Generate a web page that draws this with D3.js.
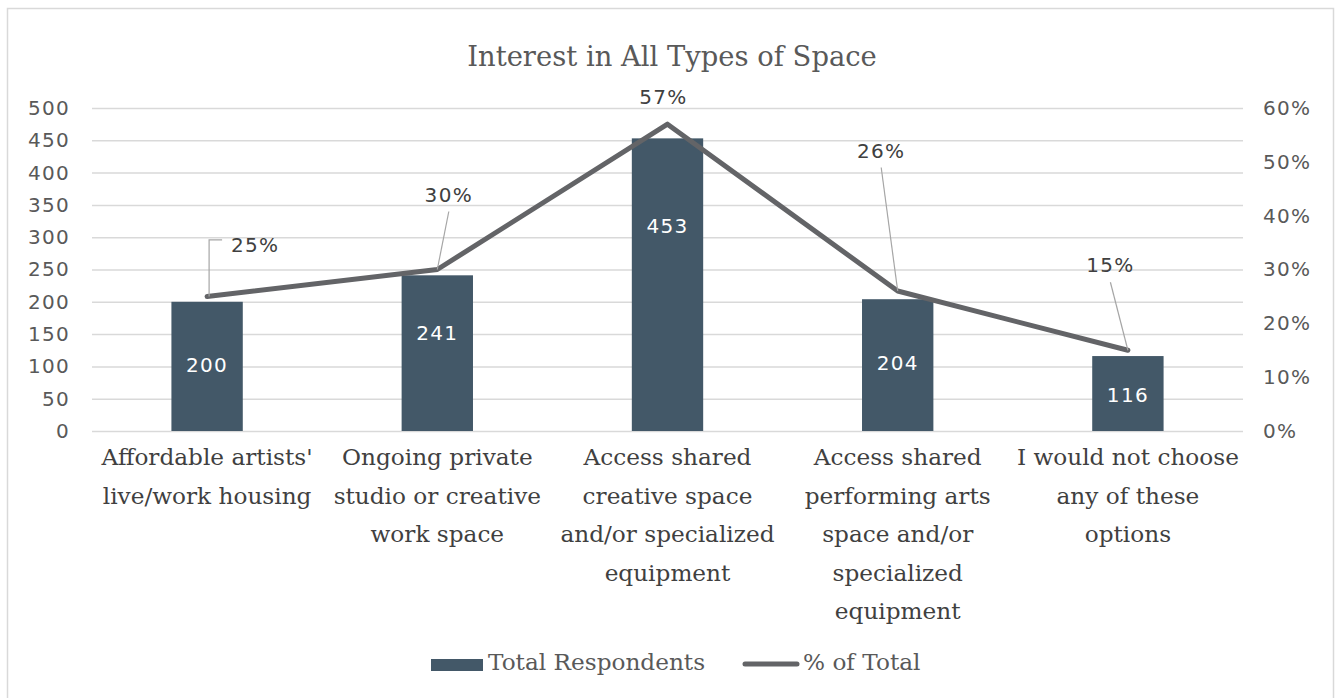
<!DOCTYPE html>
<html>
<head>
<meta charset="utf-8">
<script src="https://cdn.jsdelivr.net/npm/d3@7"></script>
<style>
  html, body { margin: 0; padding: 0; background: #fff; }
  svg { display: block; }
</style>
</head>
<body>
<svg id="chart" width="1335" height="698"></svg>
<script>
// Survey results: interest in each type of space
const categories = [
  "Affordable artists'\nlive/work housing",
  "Ongoing private\nstudio or creative\nwork space",
  "Access shared\ncreative space\nand/or specialized\nequipment",
  "Access shared\nperforming arts\nspace and/or\nspecialized\nequipment",
  "I would not choose\nany of these\noptions"
];
const respondents = [200, 241, 453, 204, 116];
const shareOfTotal = [0.25, 0.30, 0.57, 0.26, 0.15];
const leftTicks = [0, 50, 100, 150, 200, 250, 300, 350, 400, 450, 500];
const rightTicks = [0, 0.1, 0.2, 0.3, 0.4, 0.5, 0.6];
const seriesNames = ["Total Respondents", "% of Total"];
const chartTitle = "Interest in All Types of Space";

// Vertical placement of the count labels, measured down from the top of each bar
const barLabelDy = [63, 57, 87, 64, 39];

// Placement of the percentage labels relative to their points, with leader lines
const pctLabelLayout = [
  { dx: 48,   dy: -52,   leader: "elbow" },
  { dx: 11.5, dy: -75,   leader: "straight" },
  { dx: -4,   dy: -27,   leader: "none" },
  { dx: -16.5, dy: -140.5, leader: "straight" },
  { dx: -17.5, dy: -85,  leader: "straight" }
];

const numFont = "'DejaVu Sans', Verdana, sans-serif";
const serifFont = "'DejaVu Serif', 'Liberation Serif', serif";
const numSpacing = 1.3;
const barColor = "#435868";
const lineColor = "#636467";
const gridColor = "#d9d9d9";
const catSize = 23.2;

const svg = d3.select("#chart");

// chart frame
svg.append("rect")
  .attr("x", 7.5).attr("y", 8.5)
  .attr("width", 1326).attr("height", 700)
  .attr("fill", "#fff").attr("stroke", "#d9d9d9").attr("stroke-width", 1.5);

const plot = { left: 92, right: 1243, top: 108, bottom: 431 };

const x = d3.scaleBand()
  .domain(d3.range(categories.length))
  .range([plot.left, plot.right])
  .paddingInner(0.69).paddingOuter(0.345);

const y = d3.scaleLinear().domain([0, 500]).range([plot.bottom, plot.top]);
const y2 = d3.scaleLinear().domain([0, 0.6]).range([plot.bottom, plot.top]);

// title
svg.append("text")
  .attr("x", 672).attr("y", 66)
  .attr("text-anchor", "middle")
  .attr("font-family", serifFont)
  .attr("font-size", 27.4)
  .attr("fill", "#595959")
  .text(chartTitle);

// gridlines and left axis
const leftAxis = d3.axisLeft(y).tickValues(leftTicks).tickSize(-(plot.right - plot.left)).tickPadding(22);
const gL = svg.append("g").attr("transform", `translate(${plot.left},0)`).call(leftAxis);
gL.select(".domain").remove();
gL.selectAll(".tick line").attr("stroke", gridColor).attr("stroke-width", 1.5);
gL.selectAll(".tick text")
  .attr("font-family", numFont).attr("font-size", 20)
  .attr("letter-spacing", numSpacing)
  .attr("fill", "#595959");

// right axis
const rightAxis = d3.axisRight(y2).tickValues(rightTicks).tickFormat(d3.format(".0%")).tickSize(0).tickPadding(20);
const gR = svg.append("g").attr("transform", `translate(${plot.right},0)`).call(rightAxis);
gR.select(".domain").remove();
gR.selectAll(".tick text")
  .attr("font-family", numFont).attr("font-size", 20)
  .attr("letter-spacing", numSpacing)
  .attr("fill", "#595959");

// bars
svg.append("g").selectAll("rect")
  .data(respondents)
  .join("rect")
  .attr("x", (d, i) => x(i))
  .attr("y", d => y(d))
  .attr("width", x.bandwidth())
  .attr("height", d => y(0) - y(d))
  .attr("fill", barColor);

svg.append("g").selectAll("text")
  .data(respondents)
  .join("text")
  .attr("x", (d, i) => x(i) + x.bandwidth() / 2)
  .attr("y", (d, i) => y(d) + barLabelDy[i])
  .attr("dy", "0.36em")
  .attr("text-anchor", "middle")
  .attr("font-family", numFont).attr("font-size", 20)
  .attr("letter-spacing", numSpacing)
  .attr("fill", "#ffffff")
  .text(d => d);

// category labels
const cx = i => x(i) + x.bandwidth() / 2;
const catG = svg.append("g");
categories.forEach((c, i) => {
  const t = catG.append("text")
    .attr("text-anchor", "middle")
    .attr("font-family", serifFont).attr("font-size", catSize)
    .attr("fill", "#404040");
  c.split("\n").forEach((line, j) => {
    t.append("tspan").attr("x", cx(i)).attr("y", 465 + j * 38.5).text(line);
  });
});

// line series
const pts = shareOfTotal.map((v, i) => [cx(i), y2(v)]);
svg.append("path")
  .attr("d", d3.line()(pts))
  .attr("fill", "none")
  .attr("stroke", lineColor)
  .attr("stroke-width", 5)
  .attr("stroke-linejoin", "round")
  .attr("stroke-linecap", "round");

// percentage labels with leader lines
const fmtPct = d3.format(".0%");
const lblG = svg.append("g");
shareOfTotal.forEach((v, i) => {
  const [px, py] = pts[i];
  const L = pctLabelLayout[i];
  const lx = px + L.dx, ly = py + L.dy;
  if (L.leader === "elbow") {
    lblG.append("path")
      .attr("d", `M${px + 2},${py} L${px + 2},${ly - 4.5} L${px + 15},${ly - 4.5}`)
      .attr("fill", "none").attr("stroke", "#a6a6a6").attr("stroke-width", 1.2);
  } else if (L.leader === "straight") {
    lblG.append("line")
      .attr("x1", px).attr("y1", py)
      .attr("x2", lx).attr("y2", ly + 17)
      .attr("stroke", "#a6a6a6").attr("stroke-width", 1.2);
  }
  lblG.append("text")
    .attr("x", lx).attr("y", ly)
    .attr("dy", "0.36em")
    .attr("text-anchor", "middle")
    .attr("font-family", numFont).attr("font-size", 20)
    .attr("letter-spacing", numSpacing)
    .attr("fill", "#404040")
    .text(fmtPct(v));
});

// legend
const leg = svg.append("g");
leg.append("rect").attr("x", 431).attr("y", 659).attr("width", 52).attr("height", 12).attr("fill", barColor);
leg.append("text").attr("x", 488).attr("y", 670)
  .attr("font-family", serifFont).attr("font-size", catSize).attr("fill", "#595959")
  .text(seriesNames[0]);
leg.append("line").attr("x1", 745).attr("x2", 797).attr("y1", 664).attr("y2", 664)
  .attr("stroke", lineColor).attr("stroke-width", 5).attr("stroke-linecap", "round");
leg.append("text").attr("x", 803).attr("y", 670)
  .attr("font-family", serifFont).attr("font-size", catSize).attr("fill", "#595959")
  .text(seriesNames[1]);
</script>
</body>
</html>
